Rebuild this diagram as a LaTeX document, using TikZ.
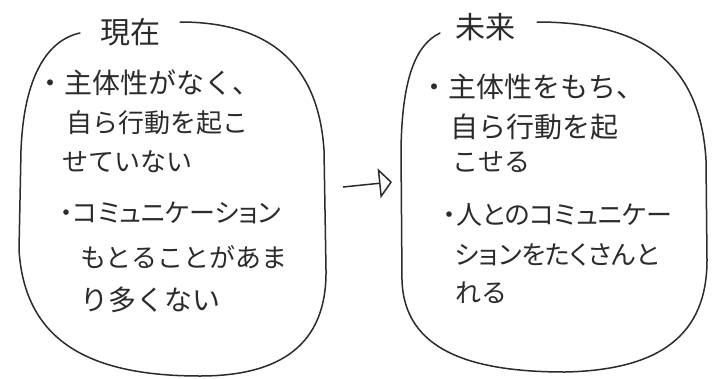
\documentclass[tikz,border=0pt]{standalone}
\usepackage{fontspec}
\newfontfamily\jp{Noto Sans CJK JP}
\newfontfamily\jpp{Noto Sans CJK JP}[RawFeature=+palt]
\usetikzlibrary{arrows.meta}
\definecolor{ink}{HTML}{2B2B2B}
\tikzset{
  outline/.style={draw=ink, line width=1.5pt, line cap=round, line join=round},
  txt/.style={anchor=west, inner sep=0pt, text=ink, font=\jp\fontsize{26}{26}\selectfont},
  kana/.style={txt, font=\jpp\fontsize{26}{26}\selectfont},
  big/.style={txt, font=\jp\fontsize{28}{28}\selectfont},
  ttl/.style={anchor=west, inner sep=0pt, text=ink, font=\jp\fontsize{30}{30}\selectfont},
  arrowline/.style={draw=ink, line width=1.5pt, -{Triangle[open, length=13pt, width=30pt, line width=1.5pt]}}
}
\begin{document}
\begin{tikzpicture}[x=1pt,y=-1pt]
\useasboundingbox (0,0) rectangle (720,378);
\fill[white] (0,0) rectangle (720,378);
% left outline
\draw[outline] (180,22) .. controls (265,22) and (318,60) .. (324,150)
  -- (326,270) .. controls (327,345) and (280,376) .. (200,376)
  .. controls (95,376) and (25,345) .. (19,250)
  -- (21,150) .. controls (24,75) and (48,40) .. (80,33);
% right outline
\draw[outline] (537,22) .. controls (640,22) and (700,60) .. (706,160)
  -- (707,260) .. controls (707,335) and (660,370) .. (565,372)
  .. controls (470,372) and (404,350) .. (402,280)
  -- (401,150) .. controls (402,80) and (415,45) .. (440,33);
% titles
\node[ttl] (t1) at (100,32) {現在};
\node[ttl] (t2) at (455,27) {未来};
% left text
\node[big] (l1) at (36,83) {・主体性がなく、};
\node[txt] (l2) at (66,123) {自ら行動を起こ};
\node[txt] (l3) at (62,162) {せていない};
\node[kana] (l4) at (60,213) {・コミュニケーション};
\node[txt] (l5) at (80,257) {もとることがあま};
\node[big] (l6) at (80,300) {り多くない};
% right text
\node[big] (r1) at (420,87) {・主体性をもち、};
\node[big] (r2) at (450,127) {自ら行動を起};
\node[txt] (r3) at (452,162) {こせる};
\node[kana] (r4) at (443,215) {・人とのコミュニケー};
\node[kana] (r5) at (455,255) {ションをたくさんと};
\node[txt] (r6) at (455,293) {れる};
% arrow
\coordinate (a1) at (343,187);
\coordinate (a2) at (392,182);
\draw[arrowline] (a1) -- (a2);
\end{tikzpicture}
\end{document}
